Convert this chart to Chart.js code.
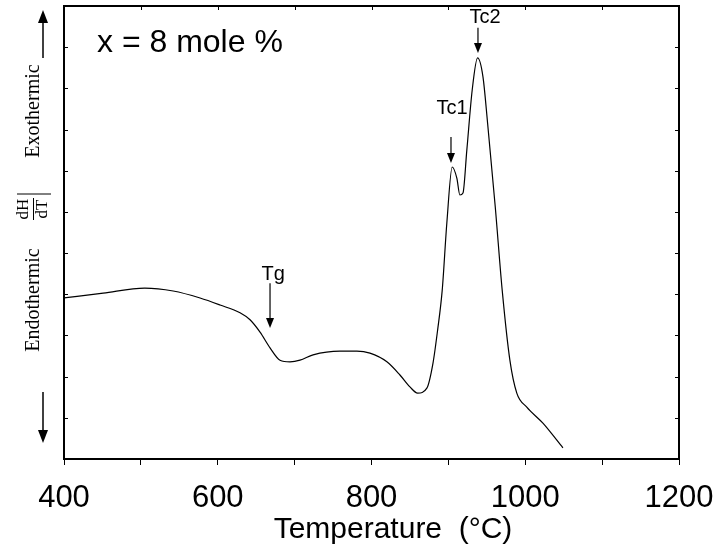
<!DOCTYPE html>
<html>
<head>
<meta charset="utf-8">
<script src="https://cdn.jsdelivr.net/npm/chart.js@4.4.1/dist/chart.umd.min.js"></script>
<style>
  html, body { margin: 0; padding: 0; background: #fff; }
  #wrap { position: relative; width: 719px; height: 548px; }
</style>
</head>
<body>
<div id="wrap"><canvas id="dta"></canvas></div>
<script>
// DTA curve, x = 8 mole %
const temps = [400, 451, 505, 542, 577, 603, 629, 642, 655, 668, 681, 694, 707, 724, 759, 781, 798, 820, 837, 850,
  860, 872, 880, 886, 892, 898, 905, 911, 915, 919, 924, 931, 938, 945, 951, 961, 970, 980, 989, 1002, 1023, 1049];
const dhdt = [3.91, 4.03, 4.15, 4.08, 3.91, 3.74, 3.55, 3.38, 3.08, 2.70, 2.40, 2.36, 2.40, 2.53, 2.62, 2.62, 2.57, 2.36, 2.04, 1.75,
  1.60, 1.72, 2.33, 3.13, 4.10, 5.73, 7.09, 6.82, 6.41, 6.46, 7.50, 8.96, 9.74, 9.28, 8.16, 6.12, 4.10, 2.40, 1.60, 1.26, 0.87, 0.27];

const xTicks = [400, 600, 800, 1000, 1200];

// peak markers: label, arrow x (°C), arrow top / tip, label position
const marks = [
  { text: 'Tg',  x: 668,   top: 4.27,  tip: 3.18, lx: 672,   ly: 4.47 },
  { text: 'Tc1', x: 903.4, top: 7.82,  tip: 7.19, lx: 904.7, ly: 8.52 },
  { text: 'Tc2', x: 938.5, top: 10.47, tip: 9.86, lx: 947.6, ly: 10.73 }
];

const SANS = '"Liberation Sans", Arial, sans-serif';
const SERIF = '"Liberation Serif", "Times New Roman", serif';

function arrowDown(ctx, x, y0, y1, w, h) {
  ctx.beginPath();
  ctx.moveTo(x, y0);
  ctx.lineTo(x, y1 - h + 2);
  ctx.stroke();
  ctx.beginPath();
  ctx.moveTo(x - w / 2, y1 - h);
  ctx.lineTo(x + w / 2, y1 - h);
  ctx.lineTo(x, y1);
  ctx.closePath();
  ctx.fill();
}

function arrowUp(ctx, x, y0, y1, w, h) {
  ctx.beginPath();
  ctx.moveTo(x, y0);
  ctx.lineTo(x, y1 + h - 2);
  ctx.stroke();
  ctx.beginPath();
  ctx.moveTo(x - w / 2, y1 + h);
  ctx.lineTo(x + w / 2, y1 + h);
  ctx.lineTo(x, y1);
  ctx.closePath();
  ctx.fill();
}

const extras = {
  id: 'extras',
  afterDraw(chart) {
    const { ctx, chartArea: a, scales: { x, y } } = chart;
    ctx.save();
    ctx.strokeStyle = '#000';
    ctx.fillStyle = '#000';

    // frame + inward ticks
    ctx.lineWidth = 2;
    ctx.strokeRect(a.left, a.top, a.right - a.left, a.bottom - a.top);
    ctx.lineWidth = 1;
    ctx.beginPath();
    y.ticks.forEach(t => {
      const p = Math.round(y.getPixelForValue(t.value)) + 0.5;
      ctx.moveTo(a.left, p); ctx.lineTo(a.left + 4, p);
      ctx.moveTo(a.right - 4, p); ctx.lineTo(a.right, p);
    });
    x.ticks.forEach(t => {
      const p = Math.round(x.getPixelForValue(t.value)) + 0.5;
      ctx.moveTo(p, a.top); ctx.lineTo(p, a.top + 4);
    });
    ctx.stroke();

    // composition label
    ctx.font = '32px ' + SANS;
    ctx.textAlign = 'left';
    ctx.textBaseline = 'alphabetic';
    ctx.fillText('x = 8 mole %', 97, 52);

    // peak markers
    ctx.font = '20px ' + SANS;
    ctx.textAlign = 'center';
    ctx.textBaseline = 'middle';
    ctx.lineWidth = 1.2;
    marks.forEach(m => {
      const px = x.getPixelForValue(m.x);
      arrowDown(ctx, px, y.getPixelForValue(m.top), y.getPixelForValue(m.tip), 8, 10);
      ctx.fillText(m.text, x.getPixelForValue(m.lx), y.getPixelForValue(m.ly));
    });

    // x axis title
    ctx.font = '30px ' + SANS;
    ctx.fillText('Temperature  (\u00B0C)', 393, 530);

    // left side: Endothermic  dH/dT  Exothermic
    ctx.lineWidth = 1.5;
    arrowUp(ctx, 43, 58, 10, 10, 13);
    arrowDown(ctx, 43, 392, 443, 10, 13);
    ctx.font = '20px ' + SERIF;
    const rot = (text, cx, cy) => {
      ctx.save();
      ctx.translate(cx, cy);
      ctx.rotate(-Math.PI / 2);
      ctx.fillText(text, 0, 0);
      ctx.restore();
    };
    rot('Exothermic', 34, 111);
    rot('Endothermic', 34, 300);
    ctx.save();
    ctx.translate(33, 209);
    ctx.rotate(-Math.PI / 2);
    ctx.font = '17px ' + SERIF;
    ctx.fillText('dH', 0, -9);
    ctx.fillText('dT', 0, 10);
    ctx.lineWidth = 1;
    ctx.beginPath();
    ctx.moveTo(-11, 0.5); ctx.lineTo(11, 0.5);
    ctx.moveTo(15, -16); ctx.lineTo(15, 18);
    ctx.stroke();
    ctx.restore();

    ctx.restore();
  }
};

new Chart(document.getElementById('dta'), {
  type: 'line',
  data: {
    datasets: [{
      data: temps.map((t, i) => ({ x: t, y: dhdt[i] })),
      borderColor: '#000',
      borderWidth: 1.2,
      pointRadius: 0,
      cubicInterpolationMode: 'monotone',
      fill: false
    }]
  },
  options: {
    responsive: true,
    maintainAspectRatio: false,
    animation: false,
    layout: { padding: { top: 6, right: 40, left: 0, bottom: 0 } },
    plugins: { legend: { display: false }, tooltip: { enabled: false } },
    scales: {
      x: {
        type: 'linear',
        min: 400,
        max: 1200,
        grid: { drawOnChartArea: false, drawTicks: true, tickLength: 6, color: '#000', lineWidth: 1 },
        border: { display: false },
        ticks: {
          stepSize: 100,
          padding: 15,
          color: '#000',
          autoSkip: false,
          maxRotation: 0,
          minRotation: 0,
          font: { family: SANS, size: 31 },
          callback: v => xTicks.includes(v) ? String(v) : ''
        },
        afterFit: s => { s.height = 89; s.paddingLeft = 0; s.paddingRight = 0; }
      },
      y: {
        min: 0,
        max: 11,
        ticks: { display: false, stepSize: 1 },
        grid: { display: false },
        border: { display: false },
        afterFit: s => { s.width = 64; }
      }
    }
  },
  plugins: [extras]
});
</script>
</body>
</html>
